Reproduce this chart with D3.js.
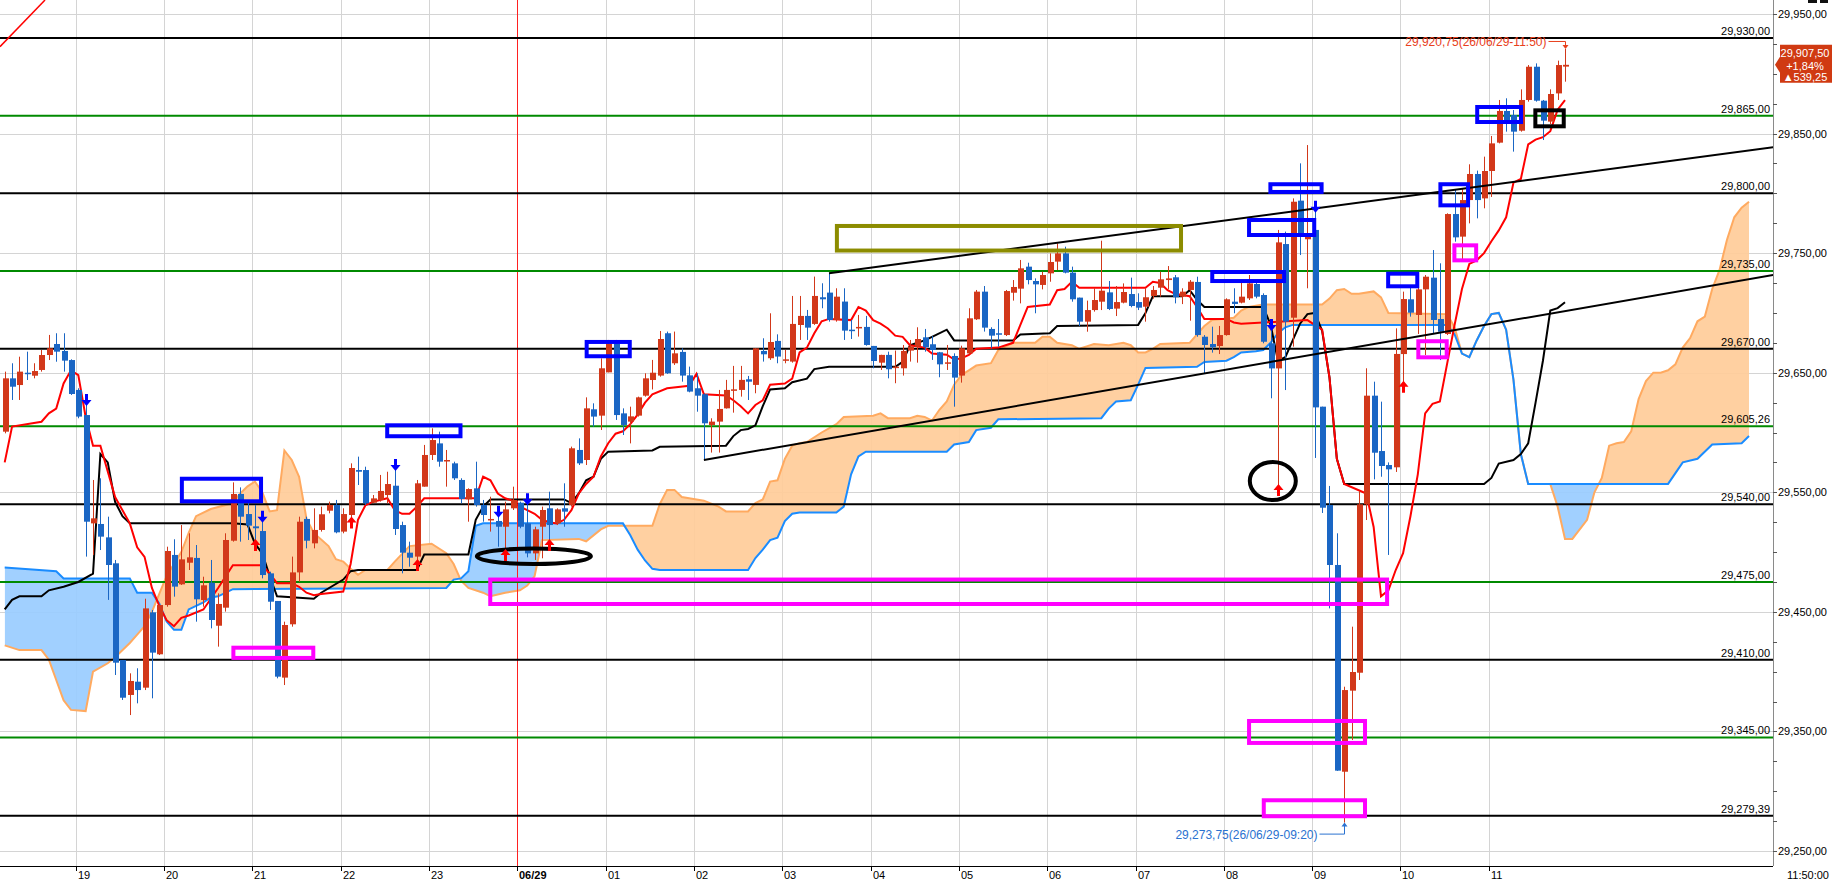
<!DOCTYPE html>
<html><head><meta charset="utf-8">
<script src="https://cdn.jsdelivr.net/npm/d3@7"></script>
<style>body{margin:0;background:#fff;overflow:hidden}svg{display:block}text{font-family:"Liberation Sans",Arial,sans-serif}</style>
</head><body><svg id="c" width="1832" height="883"></svg>
<script>
// ---------------- DATA ----------------
const opens=[29600.7,29645.3,29639.7,29650.0,29647.5,29652.3,29664.8,29674.0,29668.2,29660.6,
29635.6,29614.6,29524.0,29523.5,29512.3,29490.6,29409.7,29380.5,29391.6,29386.6,
29449.6,29414.5,29455.7,29497.6,29473.0,29491.1,29495.1,29459.9,29474.4,29438.4,
29453.5,29509.5,29548.6,29531.8,29521.5,29517.6,29482.2,29459.1,29395.0,29439.6,
29483.0,29527.7,29507.3,29518.5,29534.6,29539.4,29517.1,29531.0,29568.6,29568.6,
29541.3,29543.6,29547.7,29555.5,29522.6,29499.5,29496.2,29554.7,29581.2,29590.9,
29576.2,29574.2,29560.3,29544.1,29553.3,29539.4,29526.8,29526.0,29521.2,29536.6,
29541.3,29524.0,29498.9,29521.2,29536.6,29524.0,29536.6,29539.4,29585.4,29577.0,
29619.4,29614.1,29650.3,29674.6,29616.0,29609.1,29614.1,29630.8,29643.9,29647.6,
29683.0,29657.9,29667.4,29647.8,29637.0,29632.0,29606.3,29609.1,29620.2,29635.0,
29635.6,29644.5,29639.8,29668.2,29662.1,29676.6,29660.1,29659.3,29689.9,29697.5,
29690.8,29713.1,29717.0,29694.1,29709.5,29686.0,29687.2,29688.3,29672.4,29658.4,
29664.9,29654.3,29653.7,29668.5,29671.8,29679.6,29673.8,29667.1,29657.9,29664.0,
29647.6,29666.2,29694.7,29717.8,29686.6,29683.0,29681.5,29716.9,29720.3,29738.7,
29726.7,29723.4,29733.1,29742.9,29749.8,29733.7,29712.8,29692.7,29702.4,29709.4,
29717.2,29703.6,29708.6,29715.8,29709.1,29705.2,29714.2,29721.1,29727.5,29729.8,
29713.6,29719.2,29725.9,29680.1,29674.0,29672.3,29681.5,29709.4,29708.6,29712.2,
29724.2,29715.0,29674.6,29653.6,29757.6,29696.0,29793.9,29761.6,29769.4,29621.6,
29539.4,29489.2,29316.3,29384.1,29399.1,29539.9,29630.8,29584.5,29572.8,29570.9,
29665.6,29711.4,29698.3,29719.7,29729.5,29694.9,29682.4,29782.7,29763.8,29794.4,
29816.2,29795.8,29818.7,29842.4,29868.9,29865.5,29852.4,29878.1,29905.9,29877.5,
29860.0,29883.6,29906.0];
const highs=[29650.9,29657.9,29663.4,29667.6,29657.9,29669.0,29681.6,29683.0,29683.0,29661.2,
29637.0,29623.0,29560.3,29561.7,29529.6,29493.4,29409.7,29398.6,29402.8,29461.0,
29451.6,29455.7,29504.5,29510.7,29522.6,29515.7,29505.9,29479.4,29493.4,29465.5,
29515.7,29558.3,29554.1,29542.2,29539.4,29525.4,29483.6,29459.1,29441.8,29496.2,
29529.6,29529.6,29536.6,29538.0,29542.2,29543.6,29536.6,29574.2,29579.8,29571.4,
29547.7,29564.5,29567.2,29568.6,29525.4,29508.7,29560.3,29589.6,29603.5,29600.7,
29585.4,29575.6,29561.7,29553.3,29575.6,29543.6,29546.3,29529.6,29542.2,29554.7,
29542.2,29540.0,29521.2,29538.0,29550.5,29536.6,29557.5,29588.2,29595.1,29629.4,
29624.4,29662.0,29677.4,29677.4,29620.2,29621.6,29630.0,29649.5,29660.7,29684.9,
29684.4,29684.4,29670.4,29655.1,29649.5,29632.8,29611.9,29635.6,29644.0,29655.7,
29655.7,29647.3,29670.4,29678.8,29699.7,29682.1,29669.0,29714.2,29714.2,29702.5,
29730.4,29724.8,29733.2,29720.6,29720.6,29694.1,29698.3,29697.5,29672.4,29665.0,
29667.6,29668.5,29673.2,29677.4,29688.0,29686.6,29680.7,29667.4,29673.2,29666.2,
29672.6,29703.9,29719.2,29722.5,29688.0,29694.9,29719.2,29727.5,29744.3,29742.0,
29728.9,29734.5,29749.8,29758.2,29755.4,29738.7,29712.8,29710.3,29720.6,29760.4,
29726.7,29722.5,29724.7,29729.5,29716.4,29720.6,29722.5,29734.5,29739.2,29731.7,
29720.6,29727.5,29730.3,29681.5,29688.5,29689.1,29712.2,29720.6,29727.5,29731.7,
29727.5,29716.4,29685.7,29769.4,29768.0,29795.8,29825.1,29840.4,29784.7,29621.6,
29555.3,29515.7,29387.4,29437.6,29551.1,29653.7,29642.5,29625.8,29575.0,29687.1,
29717.8,29722.0,29723.3,29731.7,29752.6,29741.5,29783.3,29803.4,29804.2,29824.3,
29819.0,29830.7,29848.0,29878.1,29879.5,29869.7,29887.0,29907.3,29908.7,29878.1,
29887.0,29911.0,29920.75];
const lows=[29599.3,29627.2,29627.2,29643.9,29645.3,29650.9,29660.6,29659.2,29650.9,29631.4,
29611.9,29496.2,29497.6,29501.7,29460.0,29397.2,29376.3,29363.7,29373.5,29384.6,
29377.7,29413.9,29454.3,29462.7,29472.5,29485.0,29441.8,29454.3,29436.2,29420.9,
29450.2,29508.7,29508.7,29510.1,29510.1,29478.0,29451.6,29394.4,29388.8,29437.6,
29475.2,29503.1,29503.1,29517.1,29532.4,29515.7,29515.7,29529.0,29556.1,29539.4,
29540.8,29542.2,29540.8,29514.3,29482.2,29487.8,29493.4,29554.7,29577.0,29571.4,
29554.7,29560.3,29540.8,29525.4,29538.0,29525.4,29517.1,29504.5,29501.7,29535.2,
29519.9,29495.6,29493.4,29494.8,29510.1,29522.6,29521.2,29538.0,29572.8,29572.8,
29604.9,29602.1,29650.3,29610.5,29597.9,29590.9,29613.3,29630.0,29636.0,29646.7,
29649.0,29656.5,29642.5,29633.6,29617.4,29577.0,29583.2,29583.2,29620.0,29616.6,
29630.0,29627.2,29632.8,29659.3,29660.7,29657.9,29657.9,29658.4,29677.4,29677.4,
29690.0,29703.9,29692.7,29692.7,29677.4,29678.2,29680.2,29672.6,29653.7,29652.3,
29645.3,29641.2,29647.6,29659.3,29658.4,29667.6,29660.7,29646.2,29652.3,29621.6,
29641.7,29665.7,29694.1,29684.4,29670.4,29671.8,29680.7,29710.3,29708.0,29723.9,
29699.7,29719.7,29726.1,29735.9,29733.1,29709.4,29689.1,29684.3,29701.1,29702.4,
29702.4,29697.4,29708.0,29704.7,29702.4,29692.7,29711.9,29713.6,29719.7,29708.0,
29707.4,29693.5,29680.1,29649.5,29666.8,29665.6,29681.0,29699.7,29708.0,29710.8,
29712.2,29674.6,29628.6,29556.1,29635.5,29671.8,29748.4,29720.6,29578.7,29532.7,
29452.9,29317.0,29273.75,29342.8,29393.0,29526.8,29560.8,29563.0,29497.6,29567.0,
29642.5,29696.9,29682.4,29664.8,29682.9,29660.6,29681.5,29759.6,29744.3,29774.9,
29779.1,29787.5,29797.0,29841.8,29851.6,29834.9,29851.6,29876.7,29876.7,29844.6,
29858.0,29878.1,29893.4];
const closes=[29645.3,29638.3,29650.9,29648.9,29651.4,29664.8,29670.4,29667.6,29660.1,29632.2,
29613.3,29525.4,29528.2,29512.9,29489.2,29407.5,29378.2,29392.2,29384.6,29452.9,
29415.9,29455.7,29500.9,29471.1,29493.9,29495.6,29460.5,29472.2,29443.2,29456.6,
29510.1,29548.6,29529.6,29522.1,29519.9,29480.8,29458.5,29395.8,29439.0,29483.0,
29525.4,29509.5,29518.5,29531.6,29539.4,29516.5,29531.8,29570.3,29567.2,29540.8,
29544.9,29551.1,29556.9,29519.3,29499.5,29495.3,29557.5,29581.2,29593.7,29575.6,
29577.0,29561.7,29544.4,29552.7,29539.4,29531.0,29527.7,29521.2,29535.7,29543.6,
29521.2,29498.9,29519.0,29535.2,29522.6,29535.7,29533.8,29586.8,29574.2,29620.2,
29613.3,29653.7,29674.6,29614.6,29606.3,29613.5,29629.4,29645.3,29650.0,29678.2,
29649.5,29666.2,29647.6,29634.2,29630.8,29607.7,29609.1,29619.7,29635.6,29636.1,
29644.0,29642.5,29670.4,29665.4,29675.7,29663.5,29661.2,29690.8,29697.5,29687.7,
29714.2,29711.4,29694.1,29713.6,29685.2,29684.9,29688.3,29673.2,29659.8,29664.9,
29652.9,29655.1,29668.2,29672.0,29678.2,29671.3,29669.0,29657.0,29658.7,29645.9,
29670.4,29695.5,29717.8,29687.7,29681.0,29681.8,29718.3,29721.7,29737.3,29727.5,
29723.9,29731.7,29742.6,29749.8,29733.7,29711.4,29692.7,29702.4,29710.8,29718.6,
29703.3,29709.1,29717.5,29705.8,29704.4,29713.1,29719.2,29728.1,29728.9,29713.1,
29717.8,29726.1,29681.5,29673.2,29671.2,29681.5,29711.4,29707.5,29713.6,29724.7,
29713.6,29675.9,29653.6,29759.0,29692.7,29793.0,29766.6,29766.6,29621.0,29537.1,
29489.2,29317.2,29384.6,29399.7,29539.9,29630.8,29583.1,29572.0,29569.2,29665.7,
29711.6,29700.2,29719.7,29730.3,29694.1,29684.3,29782.7,29763.2,29794.4,29816.2,
29794.4,29818.7,29841.8,29868.9,29860.8,29851.6,29878.1,29905.9,29877.5,29860.8,
29883.1,29907.3,29907.5];

// Ichimoku lines, vertices [bar, price]
const tenkan=[[0,29575],[1,29605],[5,29609],[6,29616],[7,29620],[8,29641],[9,29652],[10,29648],[11,29613],[12,29589],[13,29589],[15,29546],[17,29524],[18,29504],[19,29496],[20,29470],[21,29455],[22,29443],[23,29438],[24,29445],[25,29447],[27,29452],[29,29470],[31,29489],[35,29489],[36,29482],[37,29474],[39,29474],[40,29471],[41,29466],[42,29464],[43,29465],[46,29467],[47,29490],[48,29527],[49,29539],[50,29542],[52,29545],[53,29535],[54,29532],[55,29532],[56,29538],[57,29545],[64,29545],[65,29563],[66,29560],[67,29549],[68,29545],[69,29543],[70,29538],[71,29535],[72,29532],[73,29527],[74,29525],[75,29524],[76,29527],[77,29535],[78,29549],[79,29557],[80,29563],[81,29580],[82,29591],[83,29599],[84,29601],[85,29607],[86,29615],[87,29625],[88,29632],[90,29637],[93,29639],[94,29649],[95,29632],[98,29631],[99,29627],[100,29622],[101,29616],[102,29623],[103,29627],[104,29640],[106,29641],[107,29645],[108,29667],[109,29671],[110,29683],[111,29693],[112,29695],[115,29694],[116,29705],[117,29702],[118,29694],[119,29691],[120,29687],[121,29681],[122,29680],[123,29673],[125,29671],[126,29666],[128,29665],[129,29661],[130,29662],[131,29665],[132,29670],[135,29671],[137,29675],[138,29690],[139,29705],[142,29707],[143,29719],[144,29720],[145,29726],[146,29721],[155,29721],[156,29726],[157,29725],[158,29719],[159,29716],[161,29714],[162,29705],[163,29695],[166,29695],[167,29692],[168,29691],[177,29694],[178,29690],[179,29686],[180,29646],[181,29578],[182,29557],[185,29549],[186,29521],[187,29463],[188,29468],[189,29485],[190,29499],[191,29530],[192,29565],[193,29616],[194,29624],[195,29626],[196,29658],[197,29690],[198,29720],[199,29741],[200,29744],[201,29750],[202,29760],[203,29769],[204,29780],[205,29809],[206,29812],[207,29841],[208,29845],[209,29847],[210,29852],[211,29870],[212,29878]];
const kijun=[[0,29452],[1,29460],[2,29463],[5,29463],[6,29468],[8,29471],[10,29475],[12,29482],[13,29582],[14,29575],[15,29542],[16,29530],[17,29524],[31,29524],[33,29523],[34,29507],[35,29499],[36,29480],[37,29463],[42,29461],[43,29466],[46,29477],[47,29484],[48,29485],[56,29485],[57,29498],[63,29498],[64,29527],[65,29538],[66,29544],[76,29544],[77,29541],[78,29549],[79,29560],[80,29563],[81,29578],[82,29584],[88,29585],[89,29588],[98,29589],[99,29597],[100,29602],[101,29603],[102,29606],[103,29622],[104,29636],[106,29637],[107,29642],[109,29645],[110,29653],[112,29655],[121,29655],[122,29659],[123,29673],[124,29675],[125,29677],[126,29680],[128,29686],[129,29677],[137,29677],[138,29682],[142,29683],[143,29689],[154,29690],[155,29700],[156,29714],[160,29714],[161,29719],[162,29711],[163,29705],[171,29705],[172,29690],[173,29660],[174,29663],[175,29677],[176,29691],[177,29699],[178,29700],[179,29685],[180,29646],[181,29578],[182,29557],[201,29557],[202,29562],[203,29574],[205,29577],[206,29582],[207,29591],[208,29625],[209,29660],[210,29702],[211,29704],[212,29709]];
const spanBlue=[[0,29487],[7,29484],[8,29478],[17,29478],[18,29466],[20,29466],[21,29457],[22,29442],[23,29435],[24,29435],[25,29452],[27,29458],[28,29462],[29,29463],[31,29469],[60,29470],[61,29477],[62,29478],[63,29484],[64,29522],[65,29524],[84,29524],[85,29514],[86,29502],[87,29493],[88,29486],[89,29485],[101,29485],[102,29495],[103,29502],[104,29510],[105,29512],[106,29526],[107,29532],[108,29533],[113,29533],[114,29538],[115,29565],[116,29580],[117,29584],[128,29584],[129,29590],[131,29592],[132,29602],[134,29604],[135,29611],[149,29612],[150,29620],[151,29626],[153,29627],[154,29640],[155,29654],[162,29655],[163,29659],[166,29660],[167,29663],[168,29667],[170,29668],[171,29669],[172,29675],[173,29683],[174,29688],[175,29690],[196,29690],[197,29682],[198,29666],[199,29663],[200,29677],[201,29689],[202,29699],[203,29700],[204,29686],[205,29644],[206,29582],[207,29557],[226,29557],[228,29575],[230,29578],[232,29590],[236,29591],[237,29597]];
const spanOrange=[[0,29422],[2,29418],[5,29418],[6,29410],[7,29393],[8,29376],[9,29368],[11,29367],[12,29400],[14,29407],[15,29412],[17,29424],[18,29431],[19,29438],[20,29450],[21,29465],[22,29480],[24,29500],[25,29516],[26,29530],[28,29536],[31,29541],[32,29549],[33,29555],[34,29559],[35,29550],[36,29534],[37,29535],[38,29585],[39,29577],[40,29563],[41,29528],[42,29516],[44,29505],[45,29494],[46,29492],[47,29486],[48,29481],[49,29485],[52,29485],[53,29492],[55,29505],[58,29507],[60,29499],[61,29490],[62,29476],[63,29470],[65,29466],[66,29463],[68,29466],[70,29468],[71,29472],[72,29480],[73,29510],[78,29511],[79,29509],[81,29519],[82,29522],[88,29522],[89,29540],[90,29552],[91,29552],[92,29546],[93,29545],[95,29543],[97,29538],[98,29534],[101,29534],[102,29541],[103,29544],[104,29559],[105,29560],[106,29578],[107,29589],[108,29591],[109,29592],[111,29600],[113,29607],[114,29613],[118,29614],[119,29616],[120,29612],[123,29612],[124,29614],[125,29613],[126,29610],[127,29619],[128,29626],[129,29640],[130,29648],[131,29652],[132,29656],[134,29658],[135,29669],[136,29672],[137,29675],[140,29675],[141,29680],[142,29680],[143,29675],[145,29673],[146,29670],[147,29672],[148,29674],[150,29673],[152,29675],[153,29673],[154,29667],[155,29667],[156,29670],[157,29674],[161,29675],[162,29682],[163,29689],[164,29694],[167,29696],[168,29702],[169,29705],[171,29707],[179,29707],[180,29712],[181,29719],[182,29720],[183,29716],[184,29716],[186,29718],[187,29713],[188,29700],[196,29699],[197,29688],[198,29666],[199,29663],[200,29677],[201,29689],[202,29699],[203,29700],[204,29686],[205,29644],[206,29582],[207,29557],[210,29557],[211,29538],[212,29511],[213,29511],[215,29527],[216,29550],[217,29562],[218,29589],[219,29591],[220,29592],[221,29601],[222,29628],[223,29643],[224,29650],[225,29650],[226,29652],[227,29657],[228,29671],[229,29679],[230,29693],[231,29697],[232,29720],[233,29736],[234,29761],[235,29780],[236,29788],[237,29793]];

const hourLabels=["19","20","21","22","23","06/29","01","02","03","04","05","06","07","08","09","10","11"];
const hourBars=[10,22,34,46,58,70,82,94,106,118,130,142,154,166,178,190,202];
const lastTimeLabel="11:50:00";
const axisPrices=[29950,29850,29750,29650,29550,29450,29350,29250];
const levelsBlack=[29930,29800,29670,29540,29410,29279.39];
const levelsGreen=[29865,29735,29605.26,29475,29345];
const trendLines=[[[95,29577],[240.3,29731.7]],[[112,29733.2],[240.3,29838.5]],[[-0.64,29922.7],[5.48,29961.7]]];
const sellSignals=[11,35,53,67,71,172,178];
const buySignals=[34,47,56,68,74,173,190];
// annotation boxes: [bar1, bar2, priceTop, priceBottom]
const boxesBlue=[[23.8,35.1,29563.0,29540.8],[51.7,62.2,29607.7,29595.2],[78.8,85.2,29677.4,29662.1],[163.8,174.1,29735.9,29725.0],[168.8,178.2,29779.4,29763.5],[171.7,179.2,29809.3,29799.5],[187.7,192.2,29734.5,29720.6],[194.8,199.1,29809.3,29788.3],[199.8,206.3,29873.9,29858.0]];
const boxesMagenta=[[30.8,42.2,29421.7,29409.8],[65.7,188.1,29478.7,29454.9],[168.8,185.1,29360.4,29338.7],[170.8,185.1,29294.1,29277.4],[191.8,196.2,29678.0,29661.2],[196.7,200.2,29758.2,29742.3]];
const boxesBlack=[[207.7,212.1,29871.1,29854.4]];
const boxesOlive=[[112.8,160.1,29774.4,29750.5]];
const ellipses=[[71.9,29496.5,59,9.7],[172.3,29559.4,25,21]];
const highInfo={bar:212,price:29920.75,label:"29,920,75(26/06/29-11:50)"};
const lowInfo={bar:182,price:29273.75,label:"29,273,75(26/06/29-09:20)"};
const lastInfo={price:29907.5,pct:"+1,84%",chg:"▲539,25"};

// ---------------- DRAW ----------------
const W=1773,H=866;
const svg=d3.select("#c");
const x=d3.scaleLinear().domain([0,212]).range([4.7,1565]);
const y=d3.scaleLinear().domain([29250,29950]).range([851,14]);
const fmt=v=>d3.format(",.2f")(v).replace(".",",");
const gx=k=>Math.round(x(k)-2.6)+0.5;

const defs=svg.append("defs");
defs.append("clipPath").attr("id","plot").append("rect").attr("x",0).attr("y",0).attr("width",W).attr("height",H);
const aAbove=d3.area().x(d=>x(d[0])).y0(-10).y1(d=>y(d[1]));
const aBelow=d3.area().x(d=>x(d[0])).y0(d=>y(d[1])).y1(H+10);
defs.append("clipPath").attr("id","aboveBlue").append("path").attr("d",aAbove(spanBlue));
defs.append("clipPath").attr("id","belowBlue").append("path").attr("d",aBelow(spanBlue));
defs.append("clipPath").attr("id","aboveOrange").append("path").attr("d",aAbove(spanOrange));
defs.append("clipPath").attr("id","belowOrange").append("path").attr("d",aBelow(spanOrange));

const plot=svg.append("g").attr("clip-path","url(#plot)");

// grid
plot.append("g").selectAll("line").data(axisPrices).join("line")
 .attr("x1",0).attr("x2",W).attr("y1",d=>Math.round(y(d))+0.5).attr("y2",d=>Math.round(y(d))+0.5)
 .attr("stroke","#d4d4d4");
plot.append("g").selectAll("line").data(hourBars.filter(b=>b!==70)).join("line")
 .attr("x1",gx).attr("x2",gx).attr("y1",0).attr("y2",H).attr("stroke","#d4d4d4");

// cloud
plot.append("g").attr("clip-path","url(#aboveBlue)").append("rect")
 .attr("width",W).attr("height",H).attr("fill","#ffcc99").attr("fill-opacity",0.92).attr("clip-path","url(#belowOrange)");
plot.append("g").attr("clip-path","url(#aboveOrange)").append("rect")
 .attr("width",W).attr("height",H).attr("fill","#99ccff").attr("fill-opacity",0.92).attr("clip-path","url(#belowBlue)");
const ln=d3.line().x(d=>x(d[0])).y(d=>y(d[1]));
plot.append("path").attr("d",ln(spanOrange)).attr("fill","none").attr("stroke","#ffaa60").attr("stroke-width",2);
plot.append("path").attr("d",ln(spanBlue)).attr("fill","none").attr("stroke","#1a8cff").attr("stroke-width",2);

// 06/29 red vertical
plot.append("line").attr("x1",gx(70)).attr("x2",gx(70)).attr("y1",0).attr("y2",H).attr("stroke","#ff2020").attr("stroke-width",1);

// level lines
plot.append("g").selectAll("line").data(levelsBlack).join("line")
 .attr("x1",0).attr("x2",W).attr("y1",d=>y(d)).attr("y2",d=>y(d)).attr("stroke","#000").attr("stroke-width",2);
plot.append("g").selectAll("line").data(levelsGreen).join("line")
 .attr("x1",0).attr("x2",W).attr("y1",d=>y(d)).attr("y2",d=>y(d)).attr("stroke","#008a00").attr("stroke-width",2);

// kijun / tenkan
plot.append("path").attr("d",ln(kijun)).attr("fill","none").attr("stroke","#000").attr("stroke-width",2);
plot.append("path").attr("d",ln(tenkan)).attr("fill","none").attr("stroke","#ff0000").attr("stroke-width",2);

// candles
const idx=d3.range(opens.length);
const cg=plot.append("g");
cg.selectAll("line").data(idx).join("line")
 .attr("x1",i=>Math.round(x(i))+0.5).attr("x2",i=>Math.round(x(i))+0.5)
 .attr("y1",i=>y(highs[i])).attr("y2",i=>y(lows[i]))
 .attr("stroke",i=>closes[i]>=opens[i]?"#d2381a":"#1a66c4").attr("stroke-width",1);
cg.selectAll("rect").data(idx).join("rect")
 .attr("x",i=>Math.round(x(i))-2).attr("width",6)
 .attr("y",i=>y(Math.max(opens[i],closes[i])))
 .attr("height",i=>Math.max(1.5,Math.abs(y(opens[i])-y(closes[i]))))
 .attr("fill",i=>closes[i]>=opens[i]?"#d2381a":"#1a66c4");

// trend lines
plot.append("g").selectAll("path").data(trendLines).join("path")
 .attr("d",d=>ln(d)).attr("fill","none")
 .attr("stroke",(d,i)=>i===2?"#ff0000":"#000").attr("stroke-width",(d,i)=>i===2?1.5:2);

// boxes
function boxes(data,color){
 plot.append("g").selectAll("rect").data(data).join("rect")
  .attr("x",d=>x(d[0])+2).attr("y",d=>y(d[2])+2)
  .attr("width",d=>x(d[1])-x(d[0])-4).attr("height",d=>y(d[3])-y(d[2])-4)
  .attr("fill","none").attr("stroke",color).attr("stroke-width",4);
}
boxes(boxesBlue,"#0000ff");boxes(boxesMagenta,"#ff00ff");boxes(boxesBlack,"#000");boxes(boxesOlive,"#8c8c00");
plot.append("g").selectAll("ellipse").data(ellipses).join("ellipse")
 .attr("cx",d=>x(d[0])).attr("cy",d=>y(d[1])).attr("rx",d=>d[2]-2).attr("ry",d=>d[3]-2)
 .attr("fill","none").attr("stroke","#000").attr("stroke-width",4);

// signal arrows
const downArrow=(cx,t)=>`M${cx},${t}L${cx-5},${t-6}L${cx-1.5},${t-6}L${cx-1.5},${t-12}L${cx+1.5},${t-12}L${cx+1.5},${t-6}L${cx+5},${t-6}Z`;
const upArrow=(cx,t)=>`M${cx},${t}L${cx-5},${t+6}L${cx-1.5},${t+6}L${cx-1.5},${t+12}L${cx+1.5},${t+12}L${cx+1.5},${t+6}L${cx+5},${t+6}Z`;
plot.append("g").selectAll("path").data(sellSignals).join("path")
 .attr("d",k=>downArrow(Math.round(x(k))+0.5,y(highs[k])+1)).attr("fill","#0000ff");
plot.append("g").selectAll("path").data(buySignals).join("path")
 .attr("d",k=>upArrow(Math.round(x(k))+0.5,y(lows[k])-1)).attr("fill","#ff0000");

// high / low labels
const hx=Math.round(x(highInfo.bar))+0.5, hy=y(highInfo.price);
svg.append("text").attr("x",hx-19).attr("y",hy-3).attr("text-anchor","end").attr("font-size",12)
 .attr("fill","#e8401c").text(highInfo.label);
svg.append("path").attr("d",`M${hx-17},${hy-7.5}H${hx}V${hy-1}`).attr("fill","none").attr("stroke","#e8401c");
svg.append("path").attr("d",`M${hx-3},${hy-4}L${hx+3},${hy-4}L${hx},${hy}Z`).attr("fill","#e8401c");
const lx=Math.round(x(lowInfo.bar))+0.5, ly=y(lowInfo.price);
svg.append("text").attr("x",lx-27).attr("y",ly+16).attr("text-anchor","end").attr("font-size",12)
 .attr("fill","#2a72d0").text(lowInfo.label);
svg.append("path").attr("d",`M${lx-25},${ly+11.5}H${lx}V${ly+1}`).attr("fill","none").attr("stroke","#2a72d0");
svg.append("path").attr("d",`M${lx-3},${ly+4}L${lx+3},${ly+4}L${lx},${ly}Z`).attr("fill","#2a72d0");

// level labels
const lvl=svg.append("g").attr("font-size",11).attr("text-anchor","end").attr("fill","#000");
levelsBlack.concat(levelsGreen).forEach(v=>lvl.append("text").attr("x",W-3).attr("y",y(v)-3).text(fmt(v)));

// right axis
svg.append("line").attr("x1",W+0.5).attr("x2",W+0.5).attr("y1",0).attr("y2",H).attr("stroke","#8a8a8a");
const ticks=d3.range(29250,29951,25);
svg.append("g").selectAll("line").data(ticks).join("line")
 .attr("x1",W).attr("x2",W+4).attr("y1",d=>Math.round(y(d))+0.5).attr("y2",d=>Math.round(y(d))+0.5).attr("stroke","#555");
svg.append("g").selectAll("text").data(axisPrices).join("text")
 .attr("x",W+5).attr("y",d=>y(d)+4).attr("font-size",11).attr("fill","#000").text(fmt);

// last price tag
const ty=y(lastInfo.price);
svg.append("path").attr("d",`M1780,${ty-20}H1832V${ty+18}H1780V${ty+8}L1775,${ty}L1780,${ty-8}Z`).attr("fill","#d03a12");
const tg=svg.append("g").attr("font-size",11).attr("fill","#fff").attr("text-anchor","middle");
tg.append("text").attr("x",1805).attr("y",ty-8).text(fmt(lastInfo.price));
tg.append("text").attr("x",1805).attr("y",ty+5).text(lastInfo.pct);
tg.append("text").attr("x",1805).attr("y",ty+16.5).text(lastInfo.chg);
svg.append("rect").attr("x",1808).attr("y",0).attr("width",9).attr("height",3).attr("fill","#111");
svg.append("rect").attr("x",1820).attr("y",0).attr("width",8).attr("height",3).attr("fill","#111");

// bottom axis
svg.append("line").attr("x1",0).attr("x2",W).attr("y1",H+0.5).attr("y2",H+0.5).attr("stroke","#000");
svg.append("g").selectAll("line").data(hourBars).join("line")
 .attr("x1",gx).attr("x2",gx).attr("y1",H).attr("y2",H+5).attr("stroke","#000");
svg.append("g").selectAll("text").data(hourBars).join("text")
 .attr("x",d=>gx(d)+1.5).attr("y",879).attr("font-size",11).attr("fill","#000")
 .attr("font-weight",(d,i)=>hourLabels[i]==="06/29"?"bold":"normal")
 .text((d,i)=>hourLabels[i]);
svg.append("text").attr("x",1829).attr("y",879).attr("text-anchor","end").attr("font-size",11).text(lastTimeLabel);
</script></body></html>
